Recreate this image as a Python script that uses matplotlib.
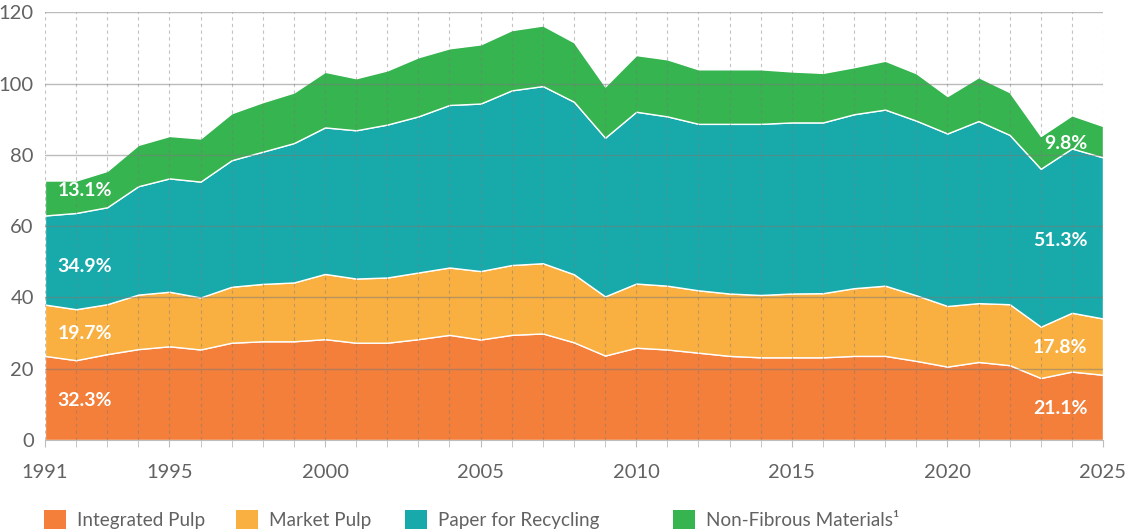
"""Stacked area chart: pulp, recycling and non-fibrous material use, 1991-2025."""
import matplotlib
matplotlib.use("Agg")
import matplotlib.pyplot as plt
from matplotlib.patches import Patch

years = list(range(1991, 2026))

integrated_pulp = [23.6, 22.4, 24.1, 25.5, 26.3, 25.4, 27.3, 27.7, 27.7, 28.3,
                   27.3, 27.3, 28.3, 29.5, 28.2, 29.5, 29.9, 27.4, 23.7, 25.9,
                   25.4, 24.5, 23.6, 23.2, 23.2, 23.2, 23.6, 23.6, 22.2, 20.6,
                   21.9, 21.0, 17.4, 19.2, 18.3]
market_pulp = [14.4, 14.3, 14.0, 15.3, 15.3, 14.6, 15.7, 16.1, 16.5, 18.3,
               18.0, 18.3, 18.7, 18.9, 19.2, 19.6, 19.7, 19.1, 16.6, 18.0,
               17.9, 17.5, 17.5, 17.5, 17.9, 18.0, 19.0, 19.7, 18.4, 17.0,
               16.5, 17.1, 14.4, 16.5, 15.8]
paper_recycling = [25.0, 27.0, 27.2, 30.4, 31.8, 32.5, 35.5, 37.1, 39.1, 41.1,
                   41.6, 42.9, 43.8, 45.6, 47.0, 49.0, 49.7, 48.4, 44.5, 48.2,
                   47.5, 46.7, 47.6, 48.0, 48.0, 47.9, 48.8, 49.4, 49.0, 48.4,
                   51.1, 47.5, 44.3, 46.1, 45.2]
non_fibrous = [9.8, 9.1, 10.2, 11.6, 11.9, 12.1, 13.2, 13.9, 14.2, 15.6,
               14.6, 15.2, 16.6, 15.9, 16.6, 16.9, 17.0, 16.7, 14.4, 15.9,
               16.0, 15.3, 15.3, 15.3, 14.3, 13.9, 13.2, 13.7, 13.3, 10.5,
               12.3, 12.0, 9.2, 9.3, 8.8]

series_names = ["Integrated Pulp", "Market Pulp", "Paper for Recycling",
                "Non-Fibrous Materials\u00b9"]
colors = ["#F37F3A", "#F9B041", "#18AAAA", "#36B44F"]

share_1991 = ["32.3%", "19.7%", "34.9%", "13.1%"]
share_2025 = ["21.1%", "17.8%", "51.3%", "9.8%"]
label_y_1991 = [11.2, 30.0, 48.6, 69.9]
label_y_2025 = [8.9, 25.9, 55.9, 83.3]

# legend entry left edges in pixels (layout only)
legend_x = [44, 236, 405, 673]

plt.rcParams["font.family"] = ["Lato", "DejaVu Sans"]

fig = plt.figure(figsize=(11.35, 5.32), dpi=100)
ax = fig.add_axes([0.0396, 0.1729, 0.9322, 0.804])

ax.stackplot(years, integrated_pulp, market_pulp, paper_recycling, non_fibrous,
             colors=colors, edgecolor="white", linewidth=1.0, zorder=2)

ax.set_xlim(1991, 2025)
ax.set_ylim(0, 120)
ax.set_yticks(range(0, 121, 20))
ax.set_xticks([1991, 1995, 2000, 2005, 2010, 2015, 2020, 2025])
ax.set_xticks(years, minor=True)

for y in range(20, 121, 20):
    ax.axhline(y, color="#7a7a7a", alpha=0.5, linewidth=1.0, zorder=3)
for x in years:
    ax.axvline(x, color="#7a7a7a", alpha=0.45, linewidth=0.8,
               linestyle=(0, (3, 3)), zorder=3)

for side in ["top", "right", "left"]:
    ax.spines[side].set_visible(False)
ax.spines["bottom"].set_color("#bdbdbd")
ax.spines["bottom"].set_zorder(4)

ax.tick_params(axis="y", length=0, pad=8, labelsize=14.5, labelcolor="#626262")
ax.tick_params(axis="x", which="both", length=5, color="#bdbdbd", pad=12,
               labelsize=14.5, labelcolor="#626262")

for txt, y in zip(share_1991, label_y_1991):
    ax.text(1991.4, y, txt, color="white", fontsize=14, fontweight="bold",
            ha="left", va="center", zorder=5)
for txt, y in zip(share_2025, label_y_2025):
    ax.text(2024.5, y, txt, color="white", fontsize=14, fontweight="bold",
            ha="right", va="center", zorder=5)

for c, name, x0 in zip(colors, series_names, legend_x):
    leg = fig.legend([Patch(facecolor=c, edgecolor="none")], [name],
                     loc="lower left", bbox_to_anchor=(x0 / 1135, 3 / 532),
                     frameon=False, fontsize=13.6, handlelength=1.14,
                     handleheight=1.14, handletextpad=0.63, borderpad=0,
                     borderaxespad=0)
    for t in leg.get_texts():
        t.set_color("#626262")

plt.savefig("out.png", dpi=100)
plt.close()
